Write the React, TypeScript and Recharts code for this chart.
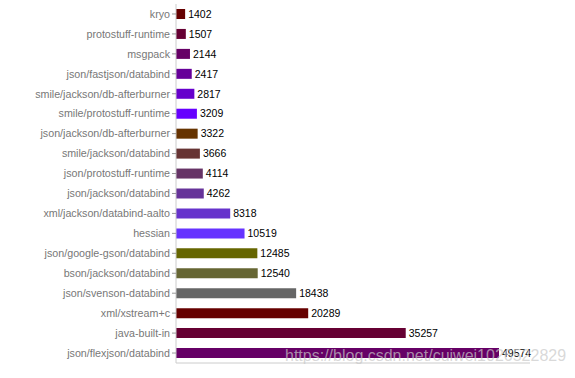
import React from 'react';
import { BarChart, Bar, XAxis, YAxis, Cell, LabelList } from 'recharts';

const categories = [
  'kryo',
  'protostuff-runtime',
  'msgpack',
  'json/fastjson/databind',
  'smile/jackson/db-afterburner',
  'smile/protostuff-runtime',
  'json/jackson/db-afterburner',
  'smile/jackson/databind',
  'json/protostuff-runtime',
  'json/jackson/databind',
  'xml/jackson/databind-aalto',
  'hessian',
  'json/google-gson/databind',
  'bson/jackson/databind',
  'json/svenson-databind',
  'xml/xstream+c',
  'java-built-in',
  'json/flexjson/databind',
];

const values = [1402, 1507, 2144, 2417, 2817, 3209, 3322, 3666, 4114, 4262, 8318, 10519, 12485, 12540, 18438, 20289, 35257, 49574];

const colors = [
  '#660000', '#660033', '#660066', '#660099', '#6600cc', '#6600ff',
  '#663300', '#663333', '#663366', '#663399', '#6633cc', '#6633ff',
  '#666600', '#666633', '#666666', '#660000', '#660033', '#660066',
];

const watermark = 'https://blog.csdn.net/cuiwei1026522829';

const data = categories.map((name, i) => ({ name, value: values[i] }));

export default function App() {
  return (
    <div style={{ position: 'absolute', left: 0, top: 0, width: 575, height: 378 }}>
      <BarChart
        width={575}
        height={378}
        data={data}
        layout="vertical"
        margin={{ top: 4, right: 45, bottom: 14, left: 0 }}
        barCategoryGap={5}
      >
        <XAxis
          type="number"
          domain={[0, 54330]}
          hide={false}
          tick={false}
          tickLine={false}
          height={1}
          axisLine={{ stroke: '#cccccc' }}
        />
        <YAxis
          type="category"
          dataKey="name"
          width={176}
          axisLine={{ stroke: '#cccccc' }}
          tickLine={{ stroke: '#999999' }}
          tickSize={4}
          tick={{ fill: '#777777', fontSize: 10.7, fontFamily: 'Liberation Sans, Arial, sans-serif' }}
          interval={0}
        />
        <Bar dataKey="value" barSize={10} isAnimationActive={false}>
          {data.map((d, i) => (
            <Cell key={d.name} fill={colors[i]} />
          ))}
          <LabelList
            dataKey="value"
            position="right"
            offset={3}
            fill="#000000"
            fontSize={10.5}
            fontFamily="Liberation Sans, Arial, sans-serif"
          />
        </Bar>
      </BarChart>
      <div
        style={{
          position: 'absolute',
          left: 285,
          top: 347,
          fontSize: 16,
          fontFamily: 'Liberation Sans, Arial, sans-serif',
          color: 'rgba(200,200,200,0.7)',
          whiteSpace: 'nowrap',
          pointerEvents: 'none',
        }}
      >
        {watermark}
      </div>
    </div>
  );
}
